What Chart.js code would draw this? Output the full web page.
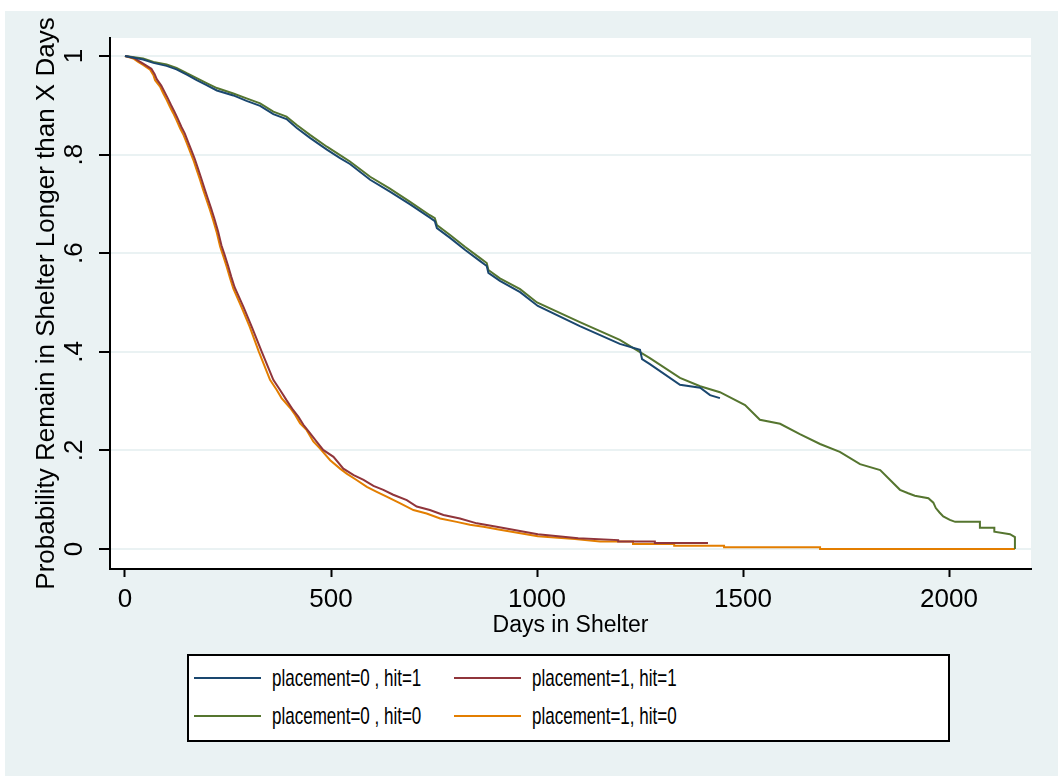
<!DOCTYPE html>
<html>
<head>
<meta charset="utf-8">
<script src="https://cdn.jsdelivr.net/npm/chart.js@4.4.1/dist/chart.umd.min.js"></script>
<style>
  html, body { margin: 0; padding: 0; background: #fff; }
  #wrap { position: relative; width: 1058px; height: 776px; overflow: hidden; }
  #bg { position: absolute; left: 5px; top: 11px; right: 0; bottom: 0; background: #eaf2f3; }
  canvas { position: absolute; left: 0; top: 0; }
  #legend { position: absolute; left: 187px; top: 654px; width: 763px; height: 88px; box-sizing: border-box;
            border: 2px solid #000; background: #fff; font-family: 'Liberation Sans', Arial, sans-serif;
            font-size: 17px; color: #000; }
  .item { position: absolute; height: 24px; width: 300px; }
  .item .line { position: absolute; left: 0; top: 11px; width: 67px; height: 2px; }
  .item .txt { position: absolute; left: 78px; top: 1px; line-height: 24px; white-space: nowrap;
               transform: scaleY(1.4); transform-origin: left center; }
</style>
</head>
<body>
<div id="wrap">
  <div id="bg"></div>
  <canvas id="myChart" width="1058" height="776"></canvas>
  <div id="legend"></div>
</div>
<script>
'use strict';

// survival curves (days, probability)
let p0h1Days = [0, 44, 69, 101, 125, 150, 174, 198, 223, 263, 295, 328, 360, 392, 417, 449, 490, 522, 546, 595,
  643, 692, 740, 752, 757, 789, 825, 862, 878, 882, 910, 959, 1002, 1104, 1201, 1250, 1255, 1274, 1347, 1396,
  1420, 1444];
let p0h1Surv = [1, .993, .986, .980, .973, .962, .951, .941, .930, .920, .909, .899, .882, .872, .854, .834, .810, .793, .781, .749,
  .725, .699, .672, .665, .651, .631, .607, .584, .574, .560, .544, .521, .493, .452, .416, .404, .385, .375, .333, .327,
  .312, .306];

let p1h1Days = [0, 22, 35, 47, 64, 72, 77, 88, 96, 104, 112, 120, 128, 137, 145, 153, 161, 169, 177, 185,
  193, 201, 209, 217, 226, 234, 242, 250, 258, 266, 288, 308, 332, 360, 376, 392, 408, 421, 433, 449,
  465, 481, 506, 530, 555, 579, 603, 627, 651, 684, 708, 740, 773, 813, 854, 902, 1002, 1100, 1197, 1197,
  1286, 1286, 1333, 1415];
let p1h1Surv = [1, .996, .989, .983, .974, .963, .953, .940, .927, .914, .900, .887, .873, .856, .843, .826, .809, .792, .772, .752,
  .731, .711, .691, .670, .644, .616, .596, .575, .552, .531, .49, .45, .40, .343, .323, .302, .282, .268, .252, .235,
  .218, .201, .187, .163, .150, .140, .128, .120, .110, .099, .086, .079, .069, .062, .052, .045, .030, .022, .018, .015,
  .015, .012, .012, .012];

let p0h0Days = [0, 44, 69, 101, 125, 150, 174, 198, 223, 263, 295, 328, 360, 392, 417, 449, 490, 522, 546, 595,
  643, 692, 740, 752, 757, 789, 825, 862, 878, 882, 910, 959, 1000, 1104, 1201, 1274, 1347, 1396, 1444, 1505,
  1541, 1590, 1638, 1687, 1735, 1784, 1833, 1881, 1901, 1917, 1950, 1962, 1968, 1977, 1986, 2002, 2015, 2075, 2075, 2110,
  2110, 2148, 2160, 2160];
let p0h0Surv = [1, .995, .988, .983, .976, .965, .955, .945, .935, .924, .914, .904, .887, .877, .860, .840, .816, .799, .786, .755,
  .731, .704, .677, .671, .657, .637, .613, .590, .580, .566, .549, .527, .500, .460, .424, .387, .347, .330, .318, .292,
  .262, .254, .233, .213, .197, .172, .160, .120, .113, .108, .103, .094, .083, .074, .066, .059, .055, .055, .043, .043,
  .035, .030, .024, 0];

let p1h0Days = [0, 20, 32, 44, 61, 69, 73, 85, 93, 101, 109, 117, 125, 134, 142, 150, 158, 166, 174, 182,
  190, 198, 206, 214, 223, 231, 239, 247, 255, 263, 283, 303, 325, 352, 368, 380, 401, 413, 425, 441,
  457, 473, 498, 522, 538, 562, 587, 611, 635, 667, 700, 732, 765, 805, 837, 870, 910, 1002, 1092, 1153,
  1233, 1233, 1333, 1333, 1454, 1454, 1687, 1687, 2160];
let p1h0Surv = [1, .995, .988, .982, .972, .961, .951, .938, .924, .911, .897, .884, .870, .853, .840, .823, .806, .789, .769, .749,
  .728, .708, .688, .667, .641, .613, .593, .572, .549, .528, .49, .45, .40, .343, .323, .306, .286, .272, .255, .241,
  .218, .204, .180, .163, .153, .140, .126, .116, .106, .093, .079, .072, .062, .055, .049, .045, .039, .026, .020, .015,
  .015, .010, .010, .0067, .0067, .0034, .0034, 0, 0];

let seriesNames = ['placement=0 , hit=1', 'placement=1, hit=1', 'placement=0 , hit=0', 'placement=1, hit=0'];
let seriesColors = ['#1a476f', '#90353b', '#55752f', '#e37e00'];

let xTicks = [0, 500, 1000, 1500, 2000];
let xLabels = ['0', '500', '1000', '1500', '2000'];
let yTicks = [0, .2, .4, .6, .8, 1];
let yLabels = ['0', '.2', '.4', '.6', '.8', '1'];

let fontFamily = "'Liberation Sans', Arial, sans-serif";

function toPoints(days, surv) {
  let pts = [];
  for (let i = 0; i < days.length; i++) {
    pts.push({x: days[i], y: surv[i]});
  }
  return pts;
}

let allData = [
  toPoints(p0h1Days, p0h1Surv),
  toPoints(p1h1Days, p1h1Surv),
  toPoints(p0h0Days, p0h0Surv),
  toPoints(p1h0Days, p1h0Surv)
];

let datasets = [];
for (let i = 0; i < allData.length; i++) {
  datasets.push({
    label: seriesNames[i],
    data: allData[i],
    borderColor: seriesColors[i],
    backgroundColor: seriesColors[i],
    borderWidth: 2,
    pointRadius: 0,
    tension: 0,
    fill: false
  });
}

// white plot region
let plotBg = {
  id: 'plotBg',
  beforeDraw(chart) {
    let a = chart.chartArea;
    let c = chart.ctx;
    c.save();
    c.fillStyle = '#fff';
    c.fillRect(a.left, a.top, a.right - a.left, a.bottom - a.top);
    c.restore();
  }
};

Chart.defaults.color = '#000';
Chart.defaults.font.family = fontFamily;

let ctx = document.getElementById('myChart').getContext('2d');
let myChart = new Chart(ctx, {
  type: 'line',
  data: { datasets: datasets },
  plugins: [plotBg],
  options: {
    responsive: false,
    animation: false,
    layout: { padding: { left: 0, top: 38, right: 27, bottom: 127 } },
    plugins: { legend: { display: false }, tooltip: { enabled: false } },
    scales: {
      x: {
        type: 'linear',
        min: -36.4,
        max: 2199,
        afterBuildTicks: s => { s.ticks = xTicks.map(v => ({value: v})); },
        afterFit: s => { s.height = 80; },
        ticks: {
          font: { size: 26 }, padding: 7, color: '#000', minRotation: 0, maxRotation: 0, autoSkip: false,
          callback: v => xLabels[xTicks.indexOf(v)]
        },
        grid: { drawOnChartArea: false, tickLength: 8, tickColor: '#000', tickWidth: 2 },
        border: { color: '#000', width: 2 },
        title: { display: true, text: 'Days in Shelter', font: { size: 23 }, color: '#000', padding: { top: 0, bottom: 10 } }
      },
      y: {
        type: 'linear',
        min: -0.0406,
        max: 1.0365,
        afterBuildTicks: s => { s.ticks = yTicks.map(v => ({value: v})); },
        afterFit: s => { s.width = 110; },
        ticks: {
          font: { size: 26 }, padding: 13, color: '#000', minRotation: 90, maxRotation: 90,
          crossAlign: 'center', autoSkip: false,
          callback: v => yLabels[yTicks.indexOf(v)]
        },
        grid: { color: '#eaf2f3', lineWidth: 2, tickLength: 11, tickColor: '#000', tickWidth: 2 },
        border: { color: '#000', width: 2 },
        title: { display: true, text: 'Probability Remain in Shelter Longer than X Days', font: { size: 26 }, color: '#000', padding: { top: 31, bottom: 0 } }
      }
    }
  }
});

// legend box, two columns like the original
let legendBox = document.getElementById('legend');
let legendPos = [[5, 10], [265, 10], [5, 48], [265, 48]];
for (let i = 0; i < seriesNames.length; i++) {
  let item = document.createElement('div');
  item.className = 'item';
  item.style.left = legendPos[i][0] + 'px';
  item.style.top = legendPos[i][1] + 'px';
  let line = document.createElement('span');
  line.className = 'line';
  line.style.background = seriesColors[i];
  let txt = document.createElement('span');
  txt.className = 'txt';
  txt.textContent = seriesNames[i];
  item.appendChild(line);
  item.appendChild(txt);
  legendBox.appendChild(item);
}
</script>
</body>
</html>
